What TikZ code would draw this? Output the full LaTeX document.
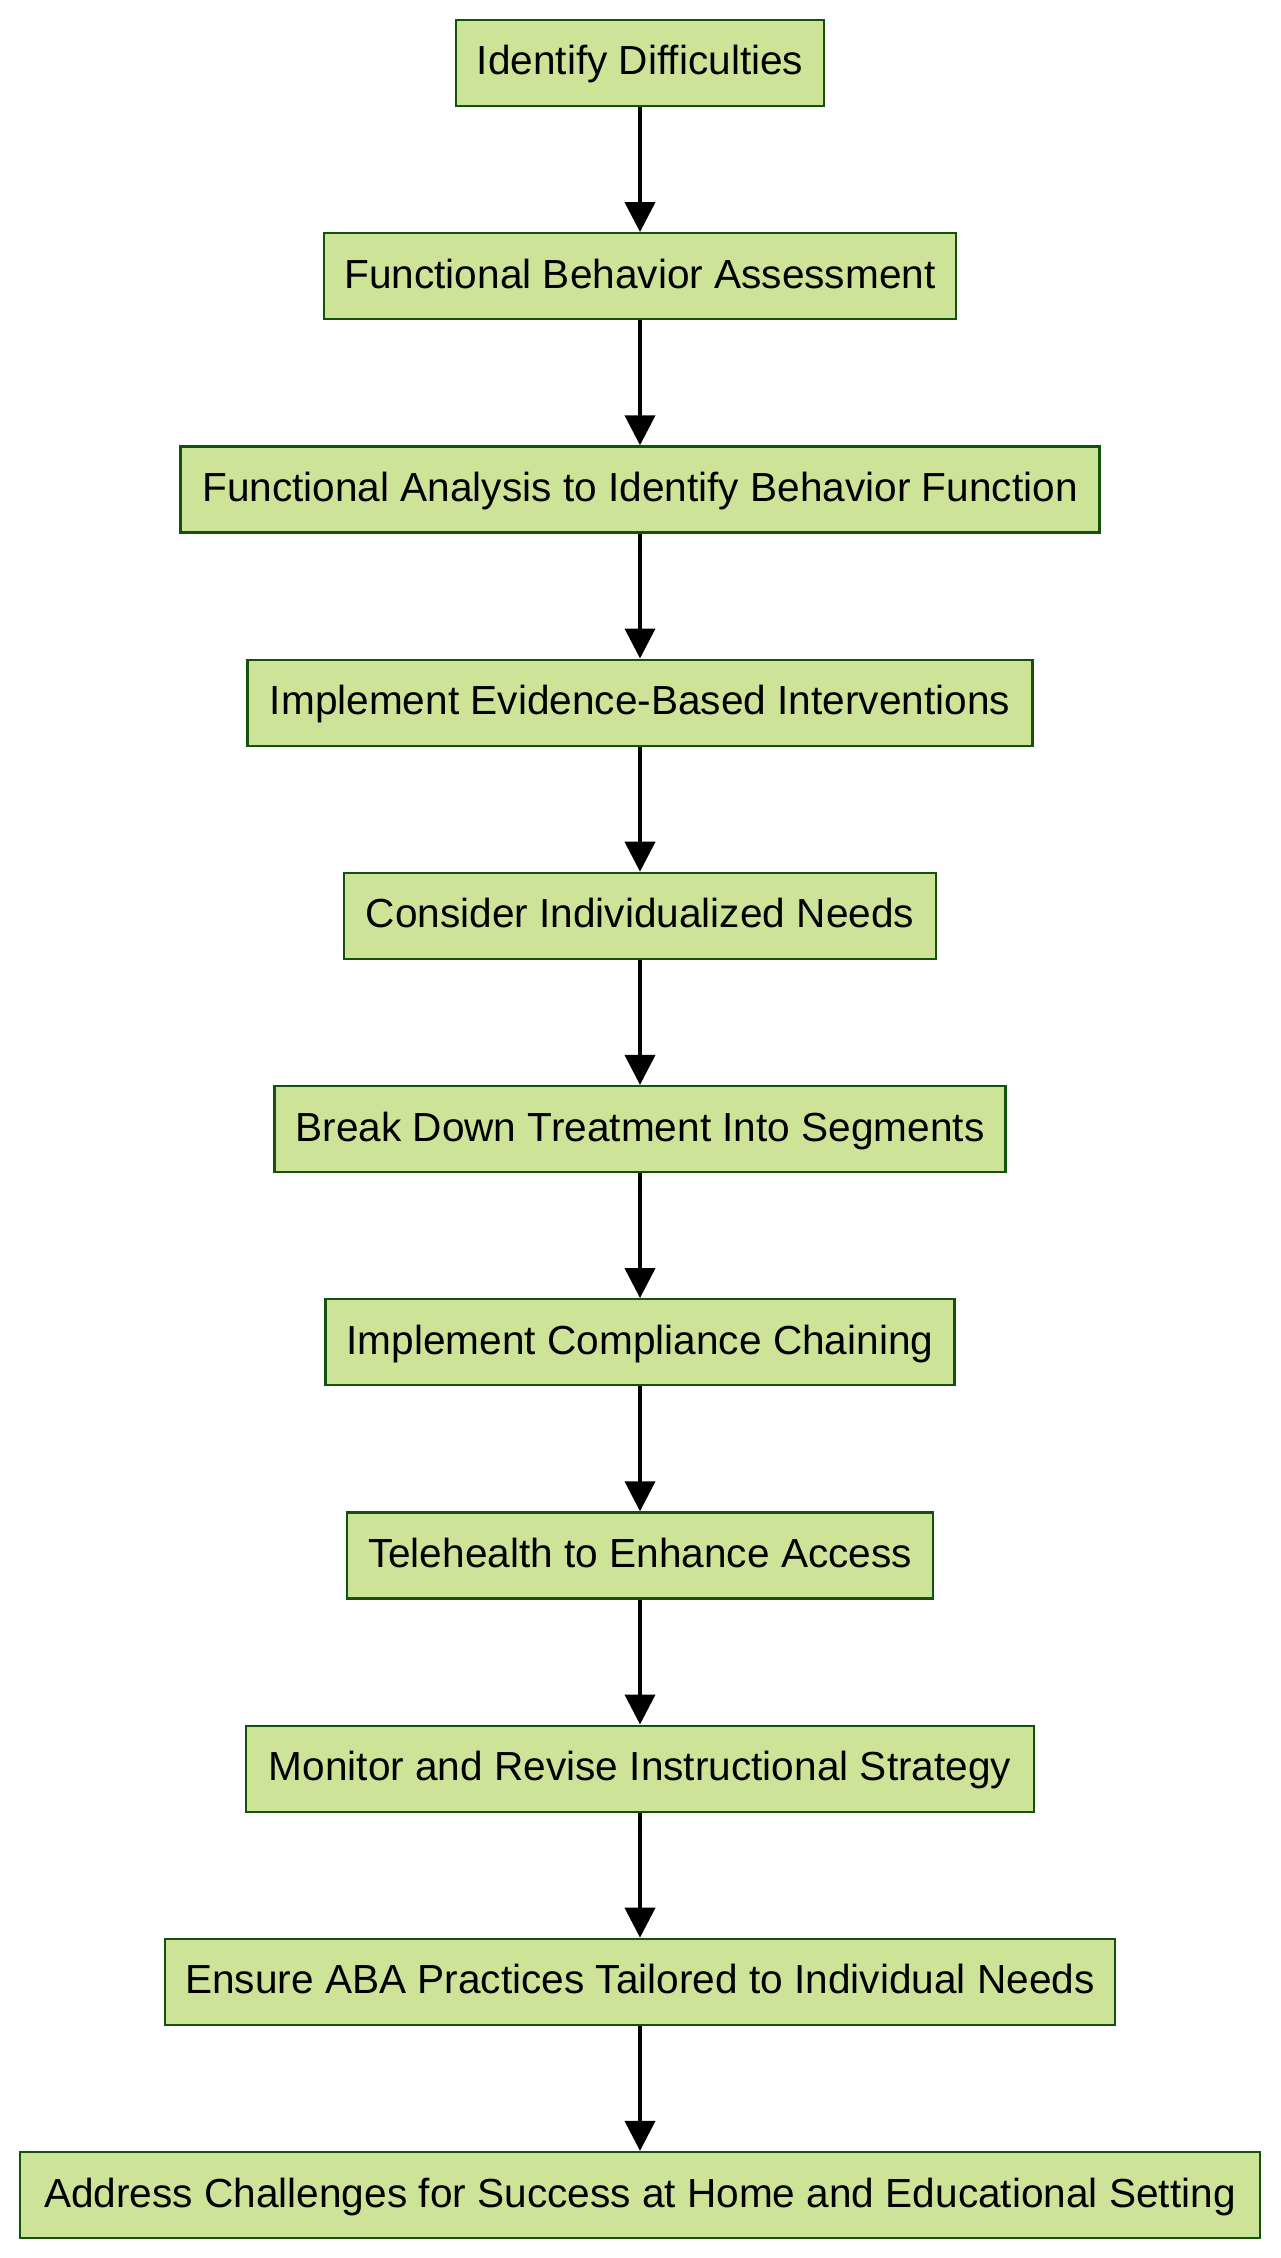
\documentclass[tikz,border=0pt]{standalone}
\usepackage{fontspec}
\setmainfont{Liberation Sans}
\usetikzlibrary{arrows.meta}
\definecolor{boxfill}{HTML}{CDE498}
\definecolor{boxline}{HTML}{13540C}
\tikzset{
  stepbox/.style={draw=boxline, fill=boxfill, line width=2.2pt, minimum height=86pt, inner sep=0pt, text height=30pt, text depth=6pt, font=\fontsize{40.6}{49}\selectfont, text=black},
  flow/.style={line width=4pt, -{Triangle[length=30pt,width=30pt]}}
}
\begin{document}
\begin{tikzpicture}[x=1pt,y=-1pt]
\useasboundingbox (0,0) rectangle (1280,2258);
\fill[white] (0,0) rectangle (1280,2258);
\node[stepbox, minimum width=368pt] (n1) at (640,63) {Identify Difficulties};
\node[stepbox, minimum width=632pt] (n2) at (640,276.2) {Functional Behavior Assessment};
\node[stepbox, minimum width=919pt] (n3) at (640,489.4) {Functional Analysis to Identify Behavior Function};
\node[stepbox, minimum width=785pt] (n4) at (640,702.6) {Implement Evidence-Based Interventions};
\node[stepbox, minimum width=592pt] (n5) at (640,915.8) {Consider Individualized Needs};
\node[stepbox, minimum width=731pt] (n6) at (640,1129) {Break Down Treatment Into Segments};
\node[stepbox, minimum width=629pt] (n7) at (640,1342.2) {Implement Compliance Chaining};
\node[stepbox, minimum width=586pt] (n8) at (640,1555.4) {Telehealth to Enhance Access};
\node[stepbox, minimum width=788pt] (n9) at (640,1768.6) {Monitor and Revise Instructional Strategy};
\node[stepbox, minimum width=950pt] (n10) at (640,1981.8) {Ensure ABA Practices Tailored to Individual Needs};
\node[stepbox, minimum width=1240pt] (n11) at (640,2195) {Address Challenges for Success at Home and Educational Setting};
\foreach \a/\b in {n1/n2,n2/n3,n3/n4,n4/n5,n5/n6,n6/n7,n7/n8,n8/n9,n9/n10,n10/n11}
  \draw[flow] (\a.south) -- (\b.north);
\end{tikzpicture}
\end{document}
